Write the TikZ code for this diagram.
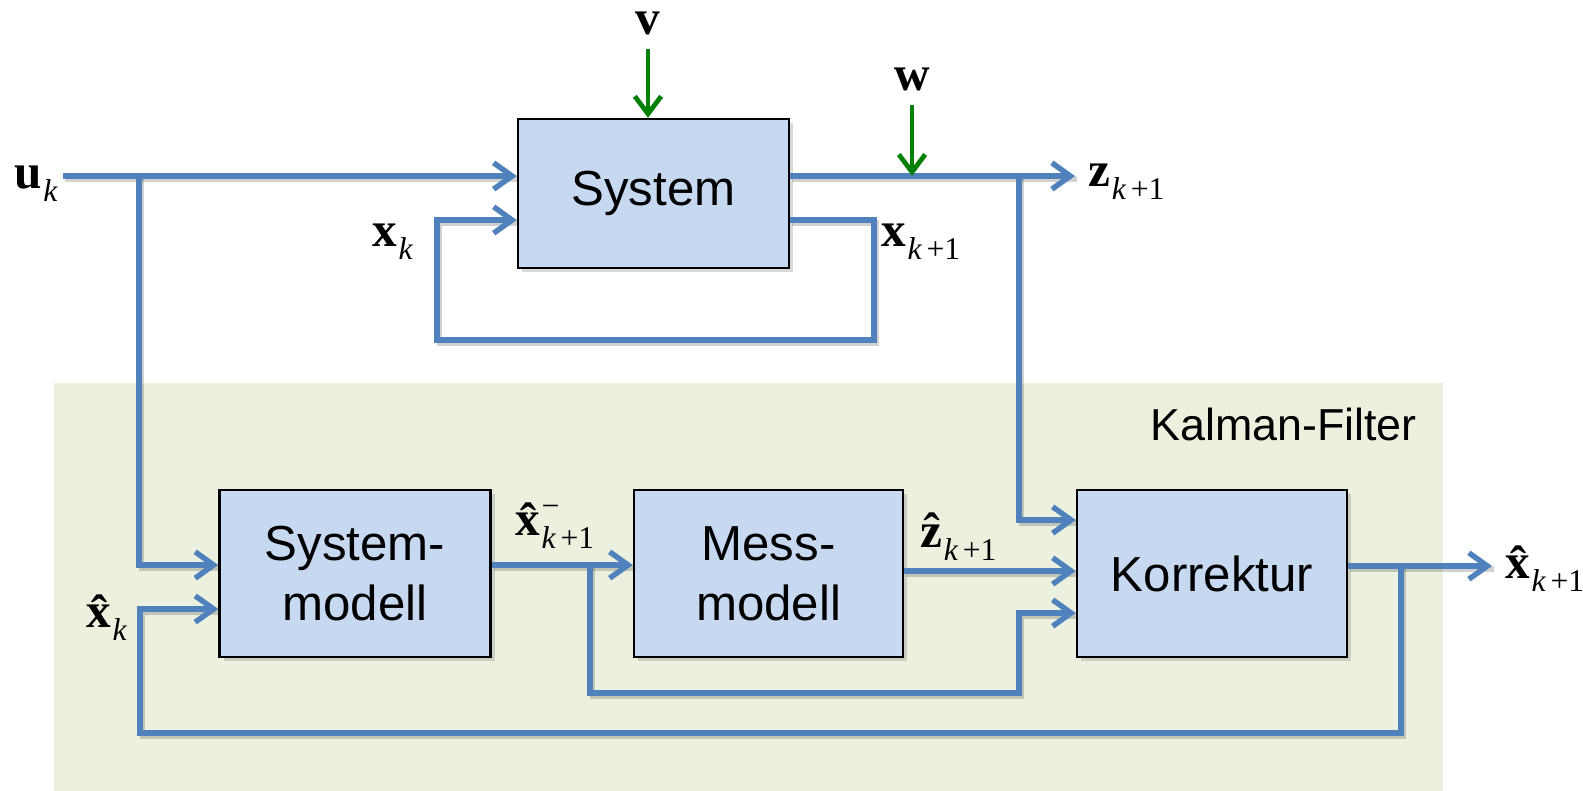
\documentclass[tikz,border=0pt]{standalone}
\usepackage{fontspec}
\setmainfont{Liberation Sans}
\newfontfamily\tms{Liberation Serif}
\usetikzlibrary{arrows.meta,shadows}
\definecolor{lineblue}{RGB}{79,129,189}
\definecolor{boxfill}{RGB}{198,217,241}
\definecolor{kfbg}{RGB}{235,241,222}
\definecolor{dgreen}{RGB}{0,128,0}
\newcommand\bigv[1]{{\tms\fontsize{28}{30}\selectfont\bfseries #1}}
\newcommand\subk[1]{\kern1pt\raisebox{-7.5pt}{\tms\fontsize{18}{20}\selectfont #1}}
\newcommand\kk{\textit{k}}
\newcommand\kp{\textit{k}\kern2.5pt+1}
\newcommand\supm{\rlap{\raisebox{10.5pt}{\kern1pt\tms\fontsize{18}{20}\selectfont −}}}
\tikzset{
  blk/.style={draw=black, line width=1.4pt, fill=boxfill, inner sep=0pt,
    minimum width=5.42cm, align=center, font=\fontsize{28}{34}\selectfont,
    drop shadow={shadow xshift=2.5pt, shadow yshift=-2.5pt, opacity=0.3}},
  lshadow/.style={preaction={draw=black, opacity=0.18, line width=3.1pt, -,
    transform canvas={shift={(1.3pt,-1.6pt)}}}},
  conn/.style={lshadow, draw=lineblue, line width=3.1pt,
    -{Straight Barb[length=10.5pt,width=15pt]}},
  gconn/.style={draw=dgreen, line width=2.7pt, -{Straight Barb[length=10pt,width=15pt]}},
  lbl/.style={inner sep=0pt, anchor=base west},
}
\begin{document}
\begin{tikzpicture}[x=0.02cm, y=-0.02cm]
\useasboundingbox (0,0) rectangle (1583,791);
% Kalman filter background
\fill[kfbg] (54,383) rectangle (1443,791);
\node[inner sep=0pt, anchor=base east, font=\fontsize{25.5}{30}\selectfont] (kftitle) at (1417,440) {Kalman-Filter};

% blocks
\node[blk, minimum height=2.98cm] (sys) at (653.5,193.5) {System};
\node[blk, minimum height=3.34cm] (sm) at (355,573.5) {System-\\modell};
\node[blk, minimum height=3.34cm, minimum width=5.38cm] (msm) at (768.5,573.5) {Mess-\\modell};
\node[blk, minimum height=3.34cm, minimum width=5.40cm] (kor) at (1212,573.5) {Korrektur};

% coordinates
\coordinate (ustart) at (63,176);
\coordinate (b1) at (139,176);
\coordinate (zend) at (1075,176);
\coordinate (b2) at (1019,176);
\coordinate (wtop) at (912,105);
\coordinate (vtop) at (648,49);
\coordinate (lr) at (874,340);
\coordinate (ll) at (437,340);
\coordinate (b3) at (590,565);
\coordinate (c3) at (1019,693);
\coordinate (xend) at (1492,566);
\coordinate (b4) at (1401,566);
\coordinate (c4) at (140,733);

% top connectors
\draw[conn] (ustart) -- (sys.west |- ustart);
\draw[conn] (b1) |- (sm.west |- 0,565);
\draw[conn] (sys.east |- zend) -- (zend);
\draw[conn] (b2) |- (kor.west |- 0,520);
\draw[conn] (sys.east |- 0,220) -| (lr) -- (ll) |- (sys.west |- 0,220);
\draw[gconn] (vtop) -- (vtop |- sys.north);
\draw[gconn] (wtop) -- (wtop |- zend);

% bottom connectors
\draw[conn] (sm.east |- 0,565) -- (msm.west |- 0,565);
\draw[conn] (b3) |- (c3) |- (kor.west |- 0,613);
\draw[conn] (msm.east |- 0,571) -- (kor.west |- 0,571);
\draw[conn] (kor.east |- xend) -- (xend);
\draw[conn] (b4) |- (c4) |- (sm.west |- 0,609);

% labels
\node[lbl] (luk) at (14,188) {\bigv{u}\subk{\kk}};
\node[lbl] (lxk) at (372,246) {\bigv{x}\subk{\kk}};
\node[lbl] (lxk1) at (881,246) {\bigv{x}\subk{\kp}};
\node[lbl] (lz) at (1088,186) {\bigv{z}\subk{\kp}};
\node[inner sep=0pt, anchor=base] (lv) at (648,34) {\bigv{v}};
\node[inner sep=0pt, anchor=base] (lw) at (912,90) {\bigv{w}};
\node[lbl] (lxm) at (515,535) {\bigv{\^x}\supm\subk{\kp}};
\node[lbl] (lzh) at (920,547) {\bigv{\^z}\subk{\kp}};
\node[lbl] (lxh1) at (1505,578) {\bigv{\^x}\subk{\kp}};
\node[lbl] (lxhk) at (86,627) {\bigv{\^x}\subk{\kk}};
\end{tikzpicture}
\end{document}
